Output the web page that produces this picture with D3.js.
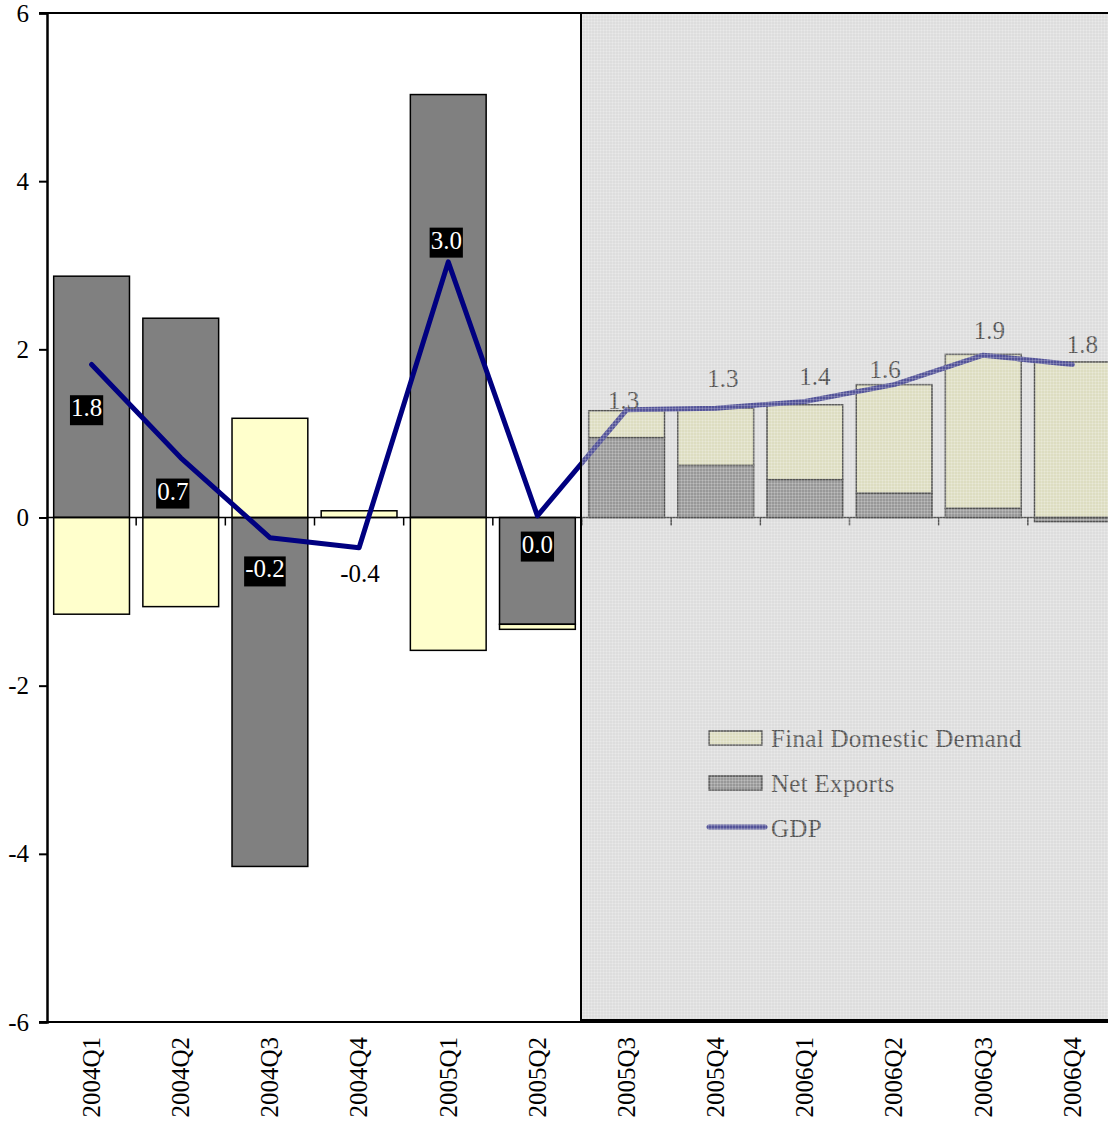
<!DOCTYPE html>
<html>
<head>
<meta charset="utf-8">
<script src="https://cdn.jsdelivr.net/npm/d3@7"></script>
<style>
  html, body { margin: 0; padding: 0; background: #ffffff; }
  svg { display: block; }
  text { font-family: "Liberation Serif", "Times New Roman", serif; }
</style>
</head>
<body>
<svg id="chart" width="1108" height="1128"></svg>
<script>
// Quarterly contributions to GDP growth (percentage points)
const categories = ["2004Q1","2004Q2","2004Q3","2004Q4","2005Q1","2005Q2",
                    "2005Q3","2005Q4","2006Q1","2006Q2","2006Q3","2006Q4"];
const finalDomesticDemand = [-1.15, -1.06, 1.18, 0.08, -1.58, -0.06, 0.32, 0.68, 0.89, 1.29, 1.83, 1.85];
const netExports          = [ 2.87,  2.37, -4.15, 0.00, 5.03, -1.27, 0.95, 0.62, 0.45, 0.29, 0.11, -0.05];
const gdp                 = [ 1.82,  0.71, -0.24, -0.36, 3.04, 0.02, 1.28, 1.30, 1.38, 1.58, 1.93, 1.82];
const yTicks = [-6, -4, -2, 0, 2, 4, 6];
const forecastStart = "2005Q3";
const seriesNames = ["Final Domestic Demand", "Net Exports", "GDP"];

// Label placement relative to each GDP point (pixels) and label look
const labelDx = [-5, -8, -5, 1, -2, 0, -3, 7, 10, -9, 6, 10];
const labelDy = [43, 33, 31, 25, -22, 28, -10, -30, -25, -15, -25, -20];
const labelBoxed = [true, true, true, false, true, true, false, false, false, false, false, false];

const svg = d3.select("#chart");
const margin = { left: 47, top: 13, bottom: 1022, right: 1117 };

const x = d3.scaleBand()
  .domain(categories)
  .range([margin.left, margin.right])
  .paddingInner(0.15)
  .paddingOuter(0.075);

const y = d3.scaleLinear().domain([-6, 6]).range([margin.bottom, margin.top]);

const colors = { fdd: "#ffffcc", nx: "#808080", gdp: "#000080" };

// Plain hyphen-minus for negative numbers
const fmt = v => d3.format(".1f")(v).replace("\u2212", "-");
const fmtInt = v => String(v);

// Stacked bars (diverging: positives up, negatives down)
const rows = categories.map((c, i) => ({ cat: c, nx: netExports[i], fdd: finalDomesticDemand[i] }));
const stack = d3.stack().keys(["nx", "fdd"]).offset(d3.stackOffsetDiverging);
const layers = stack(rows);

const gBars = svg.append("g");
layers.forEach(layer => {
  gBars.selectAll(null)
    .data(layer)
    .join("rect")
    .attr("x", d => x(d.data.cat))
    .attr("width", x.bandwidth())
    .attr("y", d => y(Math.max(d[0], d[1])))
    .attr("height", d => Math.abs(y(d[0]) - y(d[1])))
    .attr("fill", colors[layer.key])
    .attr("stroke", "#000")
    .attr("stroke-width", 1.5);
});

// Zero line with category separators
svg.append("line")
  .attr("x1", margin.left).attr("x2", margin.right)
  .attr("y1", y(0)).attr("y2", y(0))
  .attr("stroke", "#000").attr("stroke-width", 1.5);
const bounds = d3.range(1, categories.length).map(i => margin.left + i * (margin.right - margin.left) / categories.length);
svg.append("g").selectAll("line")
  .data(bounds)
  .join("line")
  .attr("x1", d => d).attr("x2", d => d)
  .attr("y1", y(0)).attr("y2", y(0) + 8)
  .attr("stroke", "#000").attr("stroke-width", 1.5);

// GDP line
const cx = c => x(c) + x.bandwidth() / 2;
const line = d3.line().x((d, i) => cx(categories[i])).y(d => y(d));
svg.append("path")
  .datum(gdp)
  .attr("d", line)
  .attr("fill", "none")
  .attr("stroke", colors.gdp)
  .attr("stroke-width", 5)
  .attr("stroke-linejoin", "round")
  .attr("stroke-linecap", "round");

// GDP value labels
const gLabels = svg.append("g");
gdp.forEach((v, i) => {
  const px = cx(categories[i]) + labelDx[i];
  const py = y(v) + labelDy[i];
  const g = gLabels.append("g");
  const t = g.append("text")
    .attr("x", px).attr("y", py).attr("dy", "0.35em")
    .attr("text-anchor", "middle")
    .attr("font-size", 25)
    .attr("fill", labelBoxed[i] ? "#fff" : "#000")
    .text(fmt(v));
  if (labelBoxed[i]) {
    const bb = t.node().getBBox();
    g.insert("rect", "text")
      .attr("x", bb.x - 1).attr("y", bb.y + 1)
      .attr("width", bb.width + 2).attr("height", bb.height + 3)
      .attr("fill", "#000");
  }
});

// Legend
const legend = svg.append("g").attr("transform", "translate(709,738)");
const legendRow = 45;
legend.append("rect").attr("x", 0).attr("y", -7).attr("width", 53).attr("height", 14)
  .attr("fill", colors.fdd).attr("stroke", "#000").attr("stroke-width", 1.5);
legend.append("rect").attr("x", 0).attr("y", legendRow - 7).attr("width", 53).attr("height", 14)
  .attr("fill", colors.nx).attr("stroke", "#000").attr("stroke-width", 1.5);
legend.append("line").attr("x1", 0).attr("x2", 56).attr("y1", 2 * legendRow - 1).attr("y2", 2 * legendRow - 1)
  .attr("stroke", colors.gdp).attr("stroke-width", 5).attr("stroke-linecap", "round");
seriesNames.forEach((name, i) => {
  legend.append("text")
    .attr("x", 62).attr("y", i * legendRow).attr("dy", "0.35em")
    .attr("font-size", 25).attr("fill", "#000")
    .attr("letter-spacing", 0.3)
    .text(name);
});

// Forecast period shading
const defs = svg.append("defs");
const pat = defs.append("pattern")
  .attr("id", "forecastShade")
  .attr("patternUnits", "userSpaceOnUse")
  .attr("width", 3).attr("height", 3);
pat.append("rect").attr("width", 3).attr("height", 3).attr("fill", "#b4b4b4").attr("fill-opacity", 0.46);
pat.append("rect").attr("width", 3).attr("height", 1).attr("fill", "#ffffff").attr("fill-opacity", 0.2);
pat.append("rect").attr("width", 1).attr("height", 3).attr("fill", "#ffffff").attr("fill-opacity", 0.2);

const shadeX = x(forecastStart) - (x.step() - x.bandwidth()) / 2 - 1;
svg.append("rect")
  .attr("x", shadeX).attr("y", margin.top)
  .attr("width", margin.right - shadeX + 10)
  .attr("height", y(-6) - margin.top - 2)
  .attr("fill", "url(#forecastShade)")
  .attr("stroke", "#000").attr("stroke-width", 2);

// Axes frame
svg.append("line")
  .attr("x1", margin.left - 8).attr("x2", margin.right)
  .attr("y1", margin.top).attr("y2", margin.top)
  .attr("stroke", "#000").attr("stroke-width", 2);
svg.append("line")
  .attr("x1", margin.left - 8).attr("x2", margin.right)
  .attr("y1", margin.bottom).attr("y2", margin.bottom)
  .attr("stroke", "#000").attr("stroke-width", 2);

const yAxis = d3.axisLeft(y).tickValues(yTicks).tickSize(8).tickPadding(10).tickFormat(fmtInt);
const gy = svg.append("g").attr("transform", `translate(${margin.left},0)`).call(yAxis);
gy.select(".domain").attr("stroke-width", 2.5);
gy.selectAll(".tick line").attr("stroke-width", 2);
gy.selectAll(".tick text")
  .attr("font-family", "'Liberation Serif', 'Times New Roman', serif")
  .attr("font-size", 25).attr("fill", "#000");

// Category labels, rotated
svg.append("g").selectAll("text")
  .data(categories)
  .join("text")
  .attr("transform", d => `translate(${cx(d)},${margin.bottom + 15}) rotate(-90)`)
  .attr("text-anchor", "end")
  .attr("dy", "0.33em")
  .attr("font-size", 25)
  .attr("fill", "#000")
  .text(d => d);
</script>
</body>
</html>
